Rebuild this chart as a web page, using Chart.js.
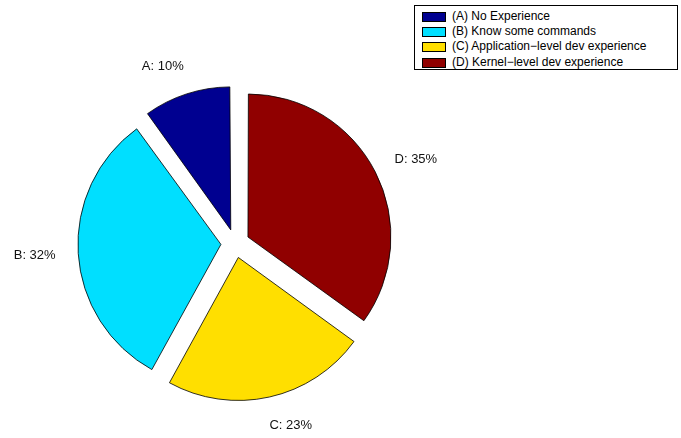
<!DOCTYPE html>
<html>
<head>
<meta charset="utf-8">
<script src="https://cdn.jsdelivr.net/npm/chart.js@4"></script>
<style>
  body { margin: 0; background: #fff; }
  #wrap { position: relative; width: 681px; height: 438px; }
  #legend {
    position: absolute; left: 414px; top: 5px; width: 264px; height: 65px;
    border: 1px solid #000; background: #fff; box-sizing: border-box;
    font: 12px "Liberation Sans", Arial, sans-serif; color: #000;
    padding-top: 3px;
  }
  #legend .row { height: 15.2px; line-height: 15.2px; white-space: nowrap; position: relative; }
  #legend .sw {
    position: absolute; left: 7px; top: 3px; width: 22px; height: 8px;
    border: 1px solid #000;
  }
  #legend .tx { position: absolute; left: 37px; top: 0; }
</style>
</head>
<body>
<div id="wrap">
  <canvas id="pie"></canvas>
  <div id="legend"></div>
</div>
<script>
// chart values
const letters = ["A", "B", "C", "D"];
const categories = [
  "(A) No Experience",
  "(B) Know some commands",
  "(C) Application\u2212level dev experience",
  "(D) Kernel\u2212level dev experience"
];
const shares = [10, 32, 23, 35];
const colors = ["#000090", "#00DFFF", "#FFDF00", "#900000"];

const RADIUS = 143;
const OFF = 14.3; // explode distance, 0.1 * radius

// matlab goes counter-clockwise from the top, chart.js clockwise -> reverse
const order = [3, 2, 1, 0];

// html legend in the original order
const legend = document.getElementById("legend");
categories.forEach((c, i) => {
  const row = document.createElement("div");
  row.className = "row";
  row.innerHTML = '<span class="sw" style="background:' + colors[i] + '"></span><span class="tx"></span>';
  row.querySelector(".tx").textContent = c;
  legend.appendChild(row);
});

// chart.js grows small arcs by offset*fix when exploded, undo that
const fixRadius = {
  id: "fixRadius",
  beforeDatasetsDraw(chart) {
    chart.getDatasetMeta(0).data.forEach(arc => {
      const fix = 1 - Math.sin(Math.min(Math.PI, arc.circumference));
      arc.outerRadius = RADIUS - OFF * fix;
    });
  }
};

// "A: 10%" labels outside the slices
const sliceLabels = {
  id: "sliceLabels",
  afterDatasetsDraw(chart) {
    const ctx = chart.ctx;
    const meta = chart.getDatasetMeta(0);
    ctx.save();
    ctx.font = '13px "Liberation Sans", Arial, sans-serif';
    ctx.fillStyle = "#111";
    ctx.textAlign = "center";
    ctx.textBaseline = "middle";
    meta.data.forEach((arc, j) => {
      const i = order[j];
      const a = (arc.startAngle + arc.endAngle) / 2;
      const d = 1.2 * RADIUS + OFF;
      const x = arc.x + Math.cos(a) * d + (Math.cos(a) >= 0 ? 15 : -15);
      const y = arc.y + Math.sin(a) * d;
      ctx.fillText(letters[i] + ": " + shares[i] + "%", x, y);
    });
    ctx.restore();
  }
};

new Chart(document.getElementById("pie"), {
  type: "pie",
  data: {
    labels: order.map(i => categories[i]),
    datasets: [{
      data: order.map(i => shares[i]),
      backgroundColor: order.map(i => colors[i]),
      borderColor: "#000",
      borderWidth: 0.8,
      offset: OFF * 4
    }]
  },
  options: {
    responsive: true,
    maintainAspectRatio: false,
    animation: false,
    radius: RADIUS,
    rotation: 0,
    layout: { padding: { left: 0, right: 210.6, top: 49, bottom: 0 } },
    plugins: {
      legend: { display: false },
      tooltip: { enabled: false }
    }
  },
  plugins: [fixRadius, sliceLabels]
});
</script>
</body>
</html>
